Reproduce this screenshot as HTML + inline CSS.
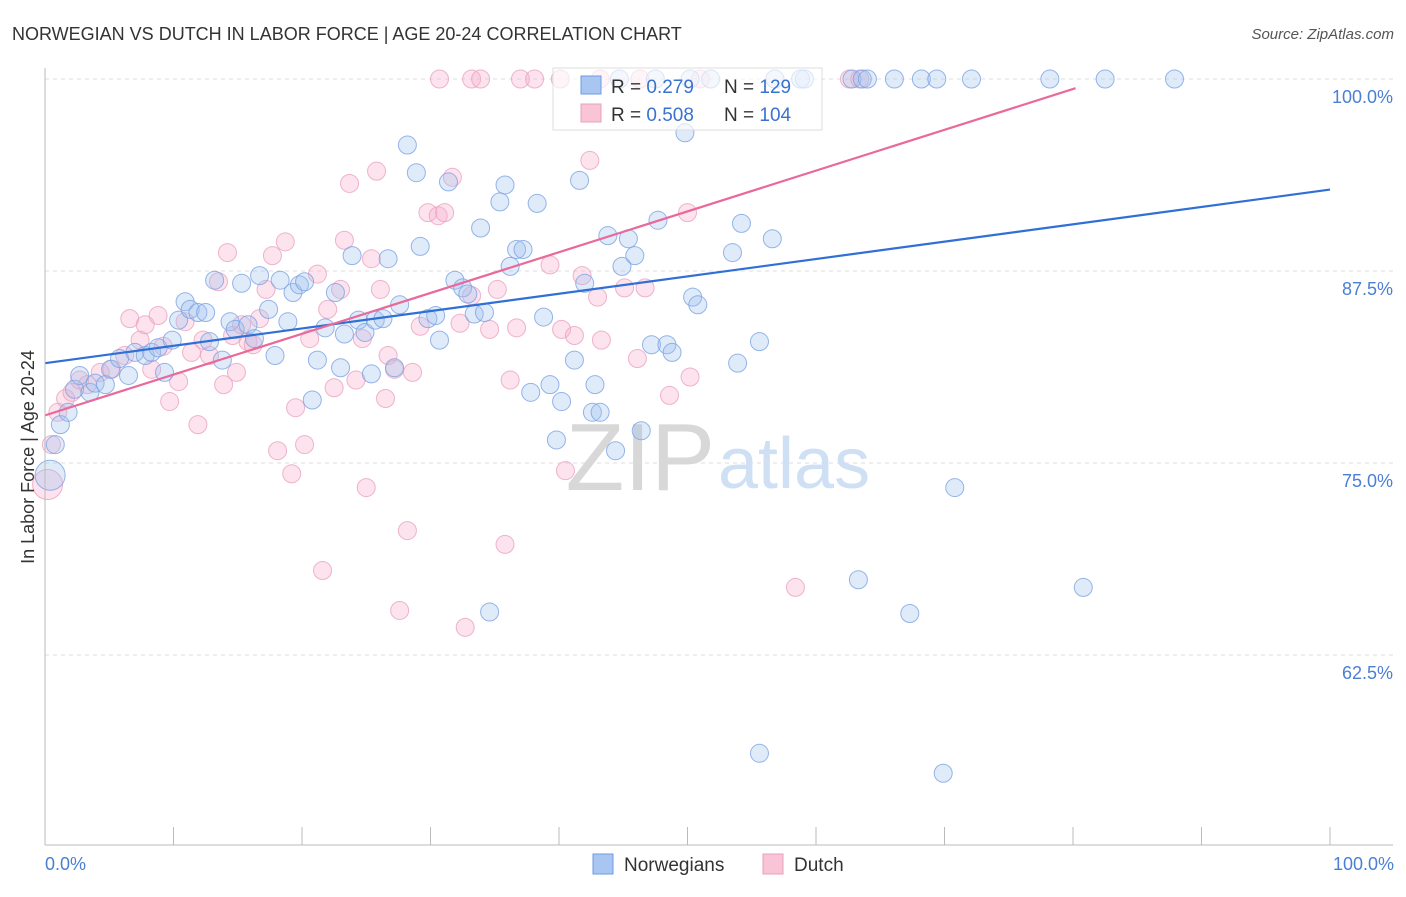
<!DOCTYPE html>
<html><head><meta charset="utf-8"><style>
body{margin:0;background:#fff;font-family:"Liberation Sans",sans-serif}
svg text{font-family:"Liberation Sans",sans-serif}
</style></head><body>
<svg id="chart" width="1406" height="892" viewBox="0 0 1406 892" xmlns="http://www.w3.org/2000/svg">
<text x="12" y="40" font-size="18" fill="#333">NORWEGIAN VS DUTCH IN LABOR FORCE | AGE 20-24 CORRELATION CHART</text>
<text x="1394" y="39" font-size="15" fill="#555" font-style="italic" text-anchor="end">Source: ZipAtlas.com</text>
<g id="grid"></g>
<text x="715" y="490" font-size="96" fill="#d8d8d8" text-anchor="end" font-family="Liberation Serif">ZIP</text>
<text x="718" y="488" font-size="72" fill="#cfe0f5">atlas</text>
<g id="pts"></g>
<g id="lines"></g>
<g id="axes"></g>
<text transform="translate(34,457) rotate(-90)" font-size="18" fill="#333" text-anchor="middle">In Labor Force | Age 20-24</text>
<text x="45" y="870" font-size="18" fill="#4a7fd4">0.0%</text>
<text x="1394" y="870" font-size="18" fill="#4a7fd4" text-anchor="end">100.0%</text>
<g>
<rect x="553" y="68" width="269" height="62" fill="#fff" fill-opacity="0.65" stroke="#ddd"/>
<rect x="581" y="76" width="20" height="18" fill="#a9c6f2" stroke="#6f9be0"/>
<rect x="581" y="104" width="20" height="18" fill="#f8c4d6" stroke="#e9a0bd"/>
<text x="611" y="93" font-size="19" fill="#333">R = <tspan fill="#3a72d0">0.279</tspan></text>
<text x="724" y="93" font-size="19" fill="#333">N = <tspan fill="#3a72d0">129</tspan></text>
<text x="611" y="121" font-size="19" fill="#333">R = <tspan fill="#3a72d0">0.508</tspan></text>
<text x="724" y="121" font-size="19" fill="#333">N = <tspan fill="#3a72d0">104</tspan></text>
</g>
<g>
<rect x="593" y="854" width="20" height="20" fill="#a9c6f2" stroke="#6f9be0"/>
<text x="624" y="871" font-size="19" fill="#333">Norwegians</text>
<rect x="763" y="854" width="20" height="20" fill="#f8c4d6" stroke="#e9a0bd"/>
<text x="794" y="871" font-size="19" fill="#333">Dutch</text>
</g>
</svg>
<script>
const yTicks=[100,87.5,75,62.5];
const yTickLabels=["100.0%","87.5%","75.0%","62.5%"];
const xTicks=[0,10,20,30,40,50,60,70,80,90,100];
const blueX=[0.4,0.8,1.2,1.8,2.3,2.7,3.5,3.9,4.7,5.1,5.8,6.5,7.0,7.8,8.3,8.8,9.3,9.9,10.4,10.9,11.3,11.9,12.5,12.8,13.2,13.8,14.4,14.8,15.3,15.8,16.3,16.7,17.4,17.9,18.3,18.9,19.3,19.8,20.2,20.8,21.2,21.8,22.6,23.0,23.3,23.9,24.4,24.9,25.4,25.7,26.3,26.7,27.2,27.6,28.2,28.9,29.2,29.8,30.4,30.7,31.4,31.9,32.5,32.9,33.4,33.9,34.2,34.6,35.4,35.8,36.2,36.7,37.2,37.8,38.3,38.8,39.3,39.8,40.2,41.2,41.6,42.0,42.6,42.8,43.2,43.8,44.4,44.9,45.4,45.9,46.4,47.2,47.7,48.4,48.8,49.8,50.4,50.8,53.5,53.9,54.2,55.6,55.6,56.6,63.3,67.3,69.9,70.8,80.8,62.8,63.6,64.0,66.1,68.2,69.4,72.1,78.2,82.5,87.9,44.7,47.5,50.2,51.8,56.8,58.8,59.1];
const blueY=[74.2,76.2,77.5,78.3,79.8,80.7,79.6,80.2,80.1,81.1,81.8,80.7,82.2,82.0,82.2,82.5,80.9,83.0,84.3,85.5,85.0,84.8,84.8,82.9,86.9,81.7,84.2,83.7,86.7,84.0,83.1,87.2,85.0,82.0,86.9,84.2,86.1,86.6,86.8,79.1,81.7,83.8,86.1,81.2,83.4,88.5,84.3,83.5,80.8,84.3,84.4,88.3,81.2,85.3,95.7,93.9,89.1,84.4,84.6,83.0,93.3,86.9,86.4,86.0,84.7,90.3,84.8,65.3,92.0,93.1,87.8,88.9,88.9,79.6,91.9,84.5,80.1,76.5,79.0,81.7,93.4,86.7,78.3,80.1,78.3,89.8,75.8,87.8,89.6,88.5,77.1,82.7,90.8,82.7,82.2,96.5,85.8,85.3,88.7,81.5,90.6,82.9,56.1,89.6,67.4,65.2,54.8,73.4,66.9,100,100,100,100,100,100,100,100,100,100,100,100,100,100,100,100,100];
const pinkX=[0.2,0.5,1.0,1.6,2.1,2.7,3.3,4.3,5.2,6.2,6.6,7.4,7.8,8.3,8.8,9.2,9.7,10.4,10.9,11.4,11.9,12.3,12.8,13.5,13.9,14.2,14.6,14.9,15.3,15.8,16.2,16.7,17.2,17.7,18.1,18.7,19.2,19.5,20.2,20.6,21.2,21.6,22.0,22.5,23.0,23.3,23.7,24.2,24.7,25.0,25.4,25.8,26.1,26.5,26.7,27.2,27.6,28.2,28.6,29.2,29.8,30.6,31.1,31.7,32.3,32.7,33.2,34.6,35.2,35.8,36.2,36.7,39.3,40.2,40.5,41.2,41.8,42.4,43.0,43.3,45.1,46.1,46.7,48.6,50.0,50.2,58.4,30.7,33.2,33.9,37.0,38.1,40.1,43.2,46.3,51.0,62.6,63.4];
const pinkY=[73.6,76.2,78.3,79.2,79.6,80.4,80.1,80.9,81.1,82.0,84.4,83.0,84.0,81.1,84.6,82.6,79.0,80.3,84.2,82.2,77.5,83.0,82.0,86.8,80.1,88.7,83.3,80.9,84.0,82.9,82.7,84.4,86.3,88.5,75.8,89.4,74.3,78.6,76.2,83.1,87.3,68.0,85.0,79.9,86.3,89.5,93.2,80.4,83.1,73.4,88.3,94.0,86.3,79.2,82.0,81.1,65.4,70.6,80.9,83.9,91.3,91.1,91.3,93.6,84.1,64.3,85.9,83.7,86.3,69.7,80.4,83.8,87.9,83.7,74.5,83.3,87.2,94.7,85.8,83.0,86.4,81.8,86.4,79.4,91.3,80.6,66.9,100,100,100,100,100,100,100,100,100,100,100];
const blueLine=[81.5,92.8];
const pinkLine=[78.1,99.4,80.2];
const NS="http://www.w3.org/2000/svg";
const X0=45,X1=1330,Y100=79,PXPER=15.36;
function sx(v){return X0+(X1-X0)*v/100;}
function sy(v){return Y100+(100-v)*PXPER;}
function mk(t,a,p){const e=document.createElementNS(NS,t);for(const k in a)e.setAttribute(k,a[k]);p.appendChild(e);return e;}
const grid=document.getElementById('grid');
yTicks.forEach((t,i)=>{
 const l=mk('line',{x1:X0,x2:1393,y1:sy(t),y2:sy(t),stroke:'#ddd','stroke-dasharray':'4,4'},grid);
 
 
 const tx=mk('text',{x:1393,y:sy(t)+24,'font-size':18,fill:'#4a7fd4','text-anchor':'end'},grid);
 tx.textContent=yTickLabels[i];
 
 
});
const axes=document.getElementById('axes');
mk('line',{x1:X0,x2:X0,y1:68,y2:845,stroke:'#bbb'},axes);
mk('line',{x1:X0,x2:1393,y1:845,y2:845,stroke:'#bbb'},axes);
xTicks.forEach(t=>{
 const l=mk('line',{x1:sx(t),x2:sx(t),y1:827,y2:845,stroke:'#bbb'},axes);
 
 
});
const pts=document.getElementById('pts');
function dots(xs,ys,fill,stroke,name){
 xs.forEach((x,i)=>{
  const c=mk('circle',{cx:sx(x),cy:sy(ys[i]),r:i==0?15:9,fill:fill,stroke:stroke,'stroke-width':1,'stroke-opacity':0.8},pts);
  
  
 });
}
dots(pinkX,pinkY,'rgba(246,176,202,0.35)','#eaa2bf','dutch-point');
dots(blueX,blueY,'rgba(160,192,240,0.32)','#7aa3e3','norwegian-point');
const lines=document.getElementById('lines');
const bl=mk('line',{x1:sx(0),y1:sy(blueLine[0]),x2:sx(100),y2:sy(blueLine[1]),stroke:'#2f6fd6','stroke-width':2.2},lines);


const pl=mk('line',{x1:sx(0),y1:sy(pinkLine[0]),x2:sx(pinkLine[2]),y2:sy(pinkLine[1]),stroke:'#e8699a','stroke-width':2.2},lines);


</script>
</body></html>
